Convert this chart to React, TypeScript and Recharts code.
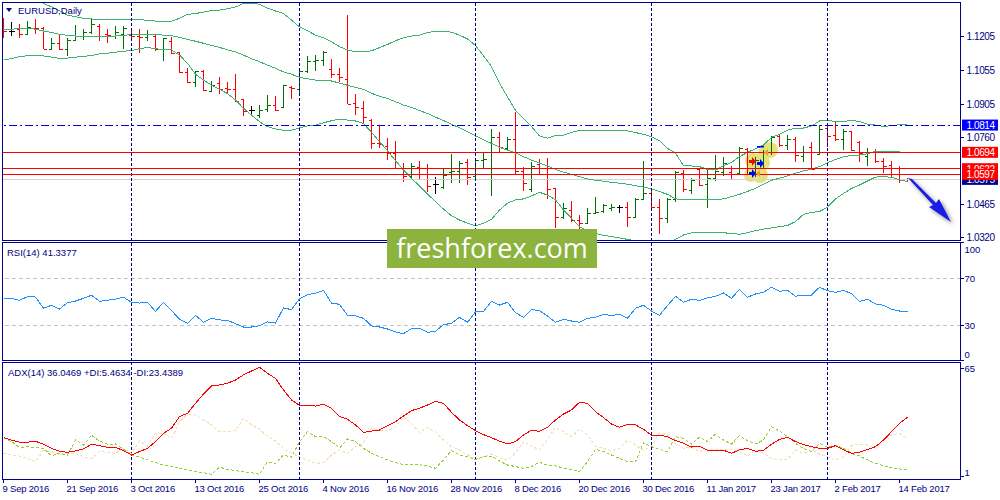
import React from 'react';
import { ComposedChart, Bar, Line, XAxis, YAxis, ReferenceLine } from 'recharts';

const opens = [
  1.1235, 1.1230, 1.1235, 1.1213, 1.1243, 1.1243, 1.1150, 1.1174, 1.1148, 1.1188,
  1.1206, 1.1222, 1.1249, 1.1214, 1.1206, 1.1217, 1.1210, 1.1208, 1.1203, 1.1206,
  1.1148, 1.1183, 1.1136, 1.1048, 1.1003, 1.1054, 1.0965, 1.0997, 1.0976, 1.0973,
  1.0927, 1.0879, 1.0859, 1.0883, 1.0902, 1.0895, 1.0983, 1.0971, 1.1053, 1.1097,
  1.1100, 1.1061, 1.1038, 1.1015, 1.0909, 1.0888, 1.0836, 1.0733, 1.0722, 1.0693,
  1.0623, 1.0591, 1.0631, 1.0623, 1.0554, 1.0543, 1.0609, 1.0612, 1.0652, 1.0590,
  1.0661, 1.0623, 1.0760, 1.0714, 1.0752, 1.0610, 1.0531, 1.0641, 1.0623, 1.0535,
  1.0411, 1.0440, 1.0396, 1.0385, 1.0425, 1.0435, 1.0449, 1.0455, 1.0455, 1.0411,
  1.0487, 1.0516, 1.0452, 1.0404, 1.0487, 1.0602, 1.0528, 1.0620, 1.0554, 1.0580,
  1.0609, 1.0606, 1.0602, 1.0709, 1.0623, 1.0645, 1.0694, 1.0768, 1.0726, 1.0752,
  1.0678, 1.0719, 1.0685, 1.0800, 1.0770, 1.0752, 1.0788, 1.0741, 1.0678, 1.0701,
  1.0657, 1.0638, 1.0623, 1.0578,
];
const highs = [
  1.1284, 1.1269, 1.1259, 1.1274, 1.1281, 1.1246, 1.1198, 1.1210, 1.1198, 1.1254,
  1.1239, 1.1279, 1.1259, 1.1236, 1.1249, 1.1249, 1.1243, 1.1236, 1.1232, 1.1210,
  1.1198, 1.1200, 1.1136, 1.1064, 1.1053, 1.1056, 1.1008, 1.1024, 1.1002, 1.1038,
  1.0928, 1.0898, 1.0901, 1.0946, 1.0941, 1.0990, 1.0987, 1.1059, 1.1119, 1.1122,
  1.1139, 1.1106, 1.1064, 1.1298, 1.0949, 1.0920, 1.0839, 1.0814, 1.0759, 1.0743,
  1.0645, 1.0645, 1.0656, 1.0642, 1.0584, 1.0623, 1.0687, 1.0656, 1.0663, 1.0667,
  1.0693, 1.0795, 1.0782, 1.0760, 1.0872, 1.0628, 1.0652, 1.0664, 1.0669, 1.0535,
  1.0473, 1.0480, 1.0418, 1.0447, 1.0496, 1.0467, 1.0467, 1.0463, 1.0477, 1.0492,
  1.0656, 1.0528, 1.0489, 1.0492, 1.0612, 1.0616, 1.0580, 1.0623, 1.0620, 1.0682,
  1.0672, 1.0634, 1.0716, 1.0712, 1.0675, 1.0704, 1.0766, 1.0775, 1.0771, 1.0763,
  1.0722, 1.0738, 1.0814, 1.0810, 1.0828, 1.0795, 1.0788, 1.0745, 1.0712, 1.0707,
  1.0667, 1.0655, 1.0634, 1.0583,
];
const lows = [
  1.1196, 1.1206, 1.1198, 1.1210, 1.1217, 1.1148, 1.1148, 1.1145, 1.1119, 1.1183,
  1.1188, 1.1217, 1.1185, 1.1177, 1.1193, 1.1149, 1.1196, 1.1133, 1.1185, 1.1139,
  1.1097, 1.1129, 1.1045, 1.1000, 1.0983, 1.0966, 1.0960, 1.0950, 1.0950, 1.0917,
  1.0856, 1.0853, 1.0845, 1.0870, 1.0877, 1.0891, 1.0928, 1.0953, 1.1045, 1.1053,
  1.1076, 1.1022, 1.1005, 1.0905, 1.0859, 1.0824, 1.0707, 1.0711, 1.0660, 1.0619,
  1.0565, 1.0573, 1.0578, 1.0521, 1.0511, 1.0534, 1.0561, 1.0561, 1.0548, 1.0580,
  1.0620, 1.0503, 1.0697, 1.0704, 1.0599, 1.0525, 1.0521, 1.0599, 1.0489, 1.0363,
  1.0399, 1.0389, 1.0338, 1.0382, 1.0422, 1.0425, 1.0437, 1.0428, 1.0367, 1.0408,
  1.0484, 1.0447, 1.0334, 1.0385, 1.0477, 1.0521, 1.0509, 1.0545, 1.0451, 1.0570,
  1.0591, 1.0573, 1.0599, 1.0594, 1.0584, 1.0620, 1.0682, 1.0719, 1.0704, 1.0652,
  1.0652, 1.0616, 1.0682, 1.0719, 1.0745, 1.0704, 1.0701, 1.0652, 1.0635, 1.0649,
  1.0604, 1.0584, 1.0558, 1.0568,
];
const closes = [
  1.1229, 1.1230, 1.1216, 1.1246, 1.1241, 1.1150, 1.1174, 1.1148, 1.1188, 1.1206,
  1.1222, 1.1259, 1.1206, 1.1212, 1.1222, 1.1243, 1.1206, 1.1200, 1.1213, 1.1148,
  1.1198, 1.1132, 1.1048, 1.1003, 1.1051, 1.0969, 1.0992, 1.0973, 1.0973, 1.0920,
  1.0877, 1.0879, 1.0882, 1.0902, 1.0882, 1.0989, 1.0976, 1.1053, 1.1096, 1.1100,
  1.1136, 1.1037, 1.1024, 1.0905, 1.0892, 1.0850, 1.0733, 1.0730, 1.0693, 1.0623,
  1.0591, 1.0635, 1.0623, 1.0547, 1.0554, 1.0594, 1.0611, 1.0648, 1.0584, 1.0661,
  1.0664, 1.0760, 1.0716, 1.0753, 1.0610, 1.0558, 1.0635, 1.0623, 1.0531, 1.0411,
  1.0447, 1.0396, 1.0385, 1.0425, 1.0430, 1.0460, 1.0452, 1.0455, 1.0411, 1.0487,
  1.0513, 1.0452, 1.0404, 1.0489, 1.0606, 1.0532, 1.0573, 1.0550, 1.0580, 1.0613,
  1.0645, 1.0599, 1.0712, 1.0623, 1.0660, 1.0697, 1.0763, 1.0726, 1.0751, 1.0682,
  1.0697, 1.0620, 1.0795, 1.0767, 1.0752, 1.0789, 1.0704, 1.0690, 1.0697, 1.0657,
  1.0635, 1.0626, 1.0575, 1.0575,
];
const bbUpper = [
  1.1423, 1.1415, 1.1405, 1.1391, 1.1372, 1.1350, 1.1334, 1.1317, 1.1298, 1.1291,
  1.1284, 1.1281, 1.1279, 1.1279, 1.1279, 1.1279, 1.1281, 1.1278, 1.1275, 1.1272,
  1.1271, 1.1271, 1.1284, 1.1301, 1.1305, 1.1311, 1.1318, 1.1320, 1.1326, 1.1334,
  1.1349, 1.1351, 1.1346, 1.1329, 1.1316, 1.1305, 1.1276, 1.1246, 1.1229, 1.1210,
  1.1198, 1.1181, 1.1159, 1.1145, 1.1136, 1.1136, 1.1141, 1.1155, 1.1169, 1.1185,
  1.1198, 1.1206, 1.1210, 1.1222, 1.1226, 1.1226, 1.1223, 1.1210, 1.1193, 1.1164,
  1.1119, 1.1071, 1.0998, 1.0938, 1.0879, 1.0843, 1.0807, 1.0766, 1.0756, 1.0768,
  1.0769, 1.0782, 1.0791, 1.0791, 1.0791, 1.0791, 1.0791, 1.0791, 1.0788, 1.0781,
  1.0773, 1.0763, 1.0745, 1.0711, 1.0690, 1.0635, 1.0634, 1.0631, 1.0619, 1.0616,
  1.0635, 1.0649, 1.0675, 1.0694, 1.0709, 1.0726, 1.0760, 1.0773, 1.0792, 1.0800,
  1.0801, 1.0810, 1.0832, 1.0836, 1.0829, 1.0829, 1.0836, 1.0829, 1.0818, 1.0814,
  1.0808, 1.0811, 1.0816, 1.0817,
];
const bbMiddle = [
  1.1235, 1.1236, 1.1239, 1.1241, 1.1236, 1.1228, 1.1222, 1.1213, 1.1209, 1.1206,
  1.1204, 1.1203, 1.1203, 1.1204, 1.1206, 1.1209, 1.1212, 1.1212, 1.1212, 1.1212,
  1.1210, 1.1207, 1.1200, 1.1191, 1.1183, 1.1174, 1.1165, 1.1156, 1.1145, 1.1136,
  1.1122, 1.1106, 1.1093, 1.1078, 1.1064, 1.1048, 1.1038, 1.1024, 1.1018, 1.1012,
  1.1011, 1.1008, 1.0999, 1.0989, 1.0980, 1.0971, 1.0954, 1.0941, 1.0931, 1.0917,
  1.0902, 1.0892, 1.0878, 1.0865, 1.0849, 1.0834, 1.0818, 1.0802, 1.0785, 1.0766,
  1.0749, 1.0733, 1.0716, 1.0704, 1.0691, 1.0675, 1.0660, 1.0647, 1.0634, 1.0619,
  1.0607, 1.0597, 1.0587, 1.0577, 1.0571, 1.0567, 1.0562, 1.0558, 1.0554, 1.0547,
  1.0541, 1.0534, 1.0521, 1.0509, 1.0489, 1.0486, 1.0485, 1.0485, 1.0485, 1.0486,
  1.0489, 1.0499, 1.0509, 1.0522, 1.0535, 1.0554, 1.0571, 1.0580, 1.0590, 1.0602,
  1.0612, 1.0620, 1.0631, 1.0648, 1.0663, 1.0674, 1.0681, 1.0682, 1.0688, 1.0698,
  1.0698, 1.0697, 1.0697, null,
];
const bbLower = [
  1.1100, 1.1107, 1.1115, 1.1119, 1.1120, 1.1118, 1.1113, 1.1107, 1.1109, 1.1113,
  1.1116, 1.1120, 1.1127, 1.1130, 1.1135, 1.1139, 1.1142, 1.1150, 1.1156, 1.1150,
  1.1146, 1.1145, 1.1122, 1.1086, 1.1038, 1.1012, 1.0990, 1.0971, 1.0953, 1.0924,
  1.0888, 1.0858, 1.0829, 1.0807, 1.0797, 1.0791, 1.0791, 1.0802, 1.0810, 1.0814,
  1.0824, 1.0833, 1.0840, 1.0836, 1.0832, 1.0821, 1.0782, 1.0741, 1.0701, 1.0657,
  1.0616, 1.0580, 1.0545, 1.0511, 1.0477, 1.0444, 1.0415, 1.0396, 1.0382, 1.0370,
  1.0382, 1.0399, 1.0440, 1.0470, 1.0485, 1.0489, 1.0502, 1.0518, 1.0506, 1.0485,
  1.0440, 1.0404, 1.0367, 1.0349, 1.0337, 1.0329, 1.0323, 1.0317, 1.0311, 1.0305,
  1.0297, 1.0289, 1.0289, 1.0294, 1.0311, 1.0330, 1.0340, 1.0342, 1.0343, 1.0343,
  1.0340, 1.0337, 1.0333, 1.0340, 1.0349, 1.0356, 1.0361, 1.0367, 1.0372, 1.0389,
  1.0421, 1.0430, 1.0433, 1.0452, 1.0489, 1.0513, 1.0535, 1.0550, 1.0568, 1.0585,
  1.0587, 1.0584, 1.0573, 1.0565,
];
const rsiValues = [
  52.9, 52.9, 51.2, 54.3, 54.0, 44.4, 47.0, 43.8, 49.2, 50.6,
  52.9, 55.5, 50.3, 51.2, 52.3, 53.8, 49.5, 48.9, 49.5, 41.8,
  49.5, 42.4, 35.3, 31.6, 38.4, 32.5, 35.9, 34.5, 34.2, 31.3,
  28.5, 28.5, 29.6, 32.8, 31.9, 44.7, 43.3, 52.6, 56.0, 57.2,
  59.7, 48.9, 47.8, 38.4, 37.9, 35.9, 29.4, 28.5, 26.8, 24.3,
  22.8, 27.1, 27.4, 24.0, 24.8, 30.5, 31.6, 36.7, 32.5, 41.3,
  41.8, 50.3, 47.2, 49.5, 40.7, 36.7, 43.5, 42.4, 37.9, 32.5,
  35.0, 33.6, 32.5, 35.9, 36.7, 39.3, 38.2, 39.3, 35.9, 44.4,
  47.0, 42.1, 38.4, 46.7, 54.6, 49.5, 52.1, 51.2, 53.2, 54.6,
  57.4, 52.9, 60.6, 53.8, 56.6, 58.0, 62.3, 58.9, 59.7, 54.6,
  55.7, 55.7, 62.3, 59.4, 58.0, 59.7, 56.9, 50.3, 52.1, 48.1,
  47.0, 43.5, 42.1, 41.3,
];
const adxValues = [
  24.1, 22.7, 21.4, 21.4, 22.0, 20.2, 17.8, 16.1, 15.5, 16.3,
  17.5, 20.2, 19.4, 18.4, 18.4, 16.5, 13.9, 15.9, 17.8, 21.8,
  26.7, 29.6, 36.5, 38.4, 44.3, 49.8, 54.5, 55.1, 56.1, 58.0,
  61.0, 63.3, 65.5, 61.9, 59.0, 52.1, 46.3, 43.1, 42.9, 42.7,
  43.7, 41.4, 36.5, 34.9, 31.6, 27.2, 28.0, 28.6, 31.2, 33.5,
  36.9, 40.0, 41.4, 43.3, 45.5, 44.3, 39.0, 34.5, 31.2, 28.2,
  25.9, 24.1, 22.0, 20.4, 21.8, 25.7, 28.4, 27.8, 30.2, 34.5,
  38.0, 40.4, 44.9, 44.3, 39.4, 35.9, 32.1, 30.2, 31.9, 31.6,
  29.0, 25.5, 25.5, 24.7, 22.4, 20.8, 18.6, 19.0, 16.7, 16.7,
  16.7, 14.9, 16.9, 17.8, 16.1, 16.7, 20.2, 23.1, 24.3, 21.8,
  20.0, 18.8, 17.8, 17.8, 19.4, 16.9, 14.9, 15.5, 17.2, 18.8,
  22.7, 27.6, 32.5, 36.05,
];
const plusDi = [
  24.1, 21.8, 18.4, 18.8, 18.4, 17.8, 13.5, 14.9, 13.9, 22.7,
  19.8, 25.5, 22.1, 20.2, 20.4, 17.2, 13.9, 12.6, 11.0, 9.4,
  8.0, 7.1, 6.1, 5.1, 4.1, 3.5, 2.6, 6.7, 5.5, 4.7,
  4.1, 3.5, 2.6, 10.0, 9.0, 13.9, 12.6, 21.8, 27.6, 24.7,
  24.7, 21.8, 17.8, 23.3, 21.8, 17.8, 14.9, 12.9, 11.0, 9.4,
  8.2, 8.2, 8.2, 7.4, 6.1, 11.0, 16.5, 13.9, 12.9, 11.0,
  12.9, 13.3, 10.4, 8.0, 7.1, 6.1, 7.1, 9.6, 8.0, 7.6,
  6.1, 5.5, 4.1, 10.0, 17.2, 15.9, 13.9, 11.9, 10.0, 10.0,
  21.2, 18.8, 17.2, 15.9, 24.7, 23.7, 20.4, 24.3, 21.8, 26.1,
  22.7, 20.4, 25.3, 22.3, 20.4, 22.7, 30.6, 28.0, 24.7, 20.8,
  17.8, 15.9, 20.8, 18.4, 19.4, 17.8, 14.9, 13.3, 11.0, 9.0,
  7.6, 6.5, 5.7, 5.46,
];
const minusDi = [
  14.9, 13.9, 13.3, 11.9, 10.0, 16.5, 15.9, 13.9, 14.9, 14.9,
  12.9, 11.6, 15.9, 15.5, 14.9, 17.8, 14.9, 22.1, 19.2, 26.7,
  26.7, 23.3, 33.5, 37.8, 37.4, 34.5, 31.6, 27.6, 27.6, 28.2,
  35.5, 31.6, 29.2, 24.7, 22.1, 17.8, 14.9, 12.9, 11.0, 9.0,
  9.4, 13.9, 16.9, 14.9, 18.8, 20.8, 29.6, 28.6, 28.2, 30.6,
  36.5, 32.5, 27.2, 30.0, 27.6, 22.7, 18.8, 16.9, 13.9, 11.6,
  12.9, 14.3, 12.5, 11.0, 14.9, 21.8, 19.2, 16.9, 23.3, 30.2,
  27.6, 24.7, 29.0, 25.7, 18.8, 17.8, 16.3, 17.8, 22.7, 19.8,
  16.5, 19.2, 27.2, 25.7, 20.8, 17.8, 18.4, 15.9, 17.2, 16.9,
  16.9, 17.2, 15.9, 13.3, 16.9, 14.9, 11.9, 11.0, 11.4, 16.9,
  14.9, 16.9, 14.5, 12.9, 11.0, 12.9, 19.2, 20.4, 19.8, 17.8,
  22.7, 25.7, 26.7, 23.44,
];

const dateLabels = [
  '9 Sep 2016', '21 Sep 2016', '3 Oct 2016', '13 Oct 2016', '25 Oct 2016', '4 Nov 2016', '16 Nov 2016',
  '28 Nov 2016', '8 Dec 2016', '20 Dec 2016', '30 Dec 2016', '11 Jan 2017', '23 Jan 2017', '2 Feb 2017', '14 Feb 2017',
];
const dateTicks = [0, 8, 16, 24, 32, 40, 48, 56, 64, 72, 80, 88, 96, 104, 112];
const monthStarts = [16, 37, 59, 81, 103];

const priceTicks = [1.032, 1.0465, 1.076, 1.0905, 1.1055, 1.1205];
const markedPrices = [
  { value: 1.0814, fill: '#0000ff' },
  { value: 1.0694, fill: '#ff0000' },
  { value: 1.0575, fill: '#00008b' },
  { value: 1.0622, fill: '#ff0000' },
  { value: 1.0597, fill: '#ff0000' },
];
const redLevels = [1.0694, 1.0622, 1.0597];
const rsiTicks = [0, 30, 70, 100];
const adxTicks = [1, 65];

const rows = opens.map((open, i) => ({
  i,
  open,
  high: highs[i],
  low: lows[i],
  close: closes[i],
  range: [lows[i], highs[i]],
  bbUpper: bbUpper[i],
  bbMiddle: bbMiddle[i],
  bbLower: bbLower[i],
  rsi: rsiValues[i],
  adx: adxValues[i],
  plusDi: plusDi[i],
  minusDi: minusDi[i],
}));

const NAVY = '#00008b';
const FONT = '"Liberation Sans", sans-serif';
const X_DOMAIN: [number, number] = [-0.125, 119.625];

const OhlcBar = (props: any) => {
  const { x, y, width, height, payload } = props;
  const { open, high, low, close } = payload;
  const cx = Math.floor(x + width / 2) + 0.5;
  const h = Math.abs(height);
  const py = (v: number) => Math.round(y + ((high - v) / (high - low)) * h) + 0.5;
  const color = close > open ? '#006f00' : close < open ? '#ff0000' : '#000000';
  return (
    <path
      d={`M${cx} ${y}V${y + h}M${cx - 3} ${py(open)}H${cx}M${cx} ${py(close)}H${cx + 3}`}
      stroke={color}
      strokeWidth={1}
      fill="none"
      shapeRendering="crispEdges"
    />
  );
};

const PriceTick = (props: any) => {
  const { x, y, payload } = props;
  const mark = markedPrices.find(m => m.value === payload.value);
  if (mark) {
    return (
      <g>
        <rect x={x + 1.5} y={y - 5.5} width={36} height={11} fill={mark.fill} />
        <text x={x + 6} y={y + 4} fontSize={10} letterSpacing={-0.4} fontFamily={FONT} fill="#ffffff">
          {payload.value.toFixed(4)}
        </text>
      </g>
    );
  }
  return (
    <g>
      <line x1={x} x2={x + 3} y1={y} y2={y} stroke={NAVY} shapeRendering="crispEdges" />
      <text x={x + 6} y={y + 4} fontSize={10} letterSpacing={-0.4} fontFamily={FONT} fill="#000080">
        {payload.value.toFixed(4)}
      </text>
    </g>
  );
};

// the terminal pushes the outermost labels back inside the pane
const labelShift: Record<number, number> = { 100: 6, 0: -7, 1: -5 };

const IndicatorTick = (props: any) => {
  const { x, y, payload } = props;
  return (
    <g>
      <line x1={x} x2={x + 3} y1={y} y2={y} stroke={NAVY} shapeRendering="crispEdges" />
      <text x={x + 4} y={y + 4 + (labelShift[payload.value] ?? 0)} fontSize={9.5} fontFamily={FONT} fill="#000080">
        {payload.value}
      </text>
    </g>
  );
};

const DateTick = (props: any) => {
  const { x, y, payload } = props;
  const label = dateLabels[dateTicks.indexOf(payload.value)];
  return (
    <g>
      <line x1={x} x2={x} y1={y} y2={y + 3} stroke={NAVY} shapeRendering="crispEdges" />
      <text x={x - 1} y={y + 12} fontSize={9.5} letterSpacing={-0.2} fontFamily={FONT} fill="#000080">
        {label}
      </text>
    </g>
  );
};

const monthLines = monthStarts.map(m => (
  <ReferenceLine key={m} x={m} stroke="#000080" strokeDasharray="3 2" shapeRendering="crispEdges" />
));

const pane = (top: number, height: number): React.CSSProperties => ({
  position: 'absolute',
  left: 2,
  top,
  width: 959,
  height,
  boxSizing: 'border-box',
  border: `1px solid ${NAVY}`,
});

const legend = (left: number, top: number): React.CSSProperties => ({
  position: 'absolute',
  left,
  top,
  font: `9.5px ${FONT}`,
  color: '#000080',
  whiteSpace: 'nowrap',
});

const layer: React.CSSProperties = { position: 'absolute', left: 0, top: 0 };

export default function App() {
  return (
    <div style={{ position: 'absolute', left: 0, top: 0, width: 1000, height: 500, background: '#fff', overflow: 'hidden' }}>
      {/* highlight blobs behind the bars */}
      <svg width={1000} height={500} style={layer}>
        <g fill="#e6e27a">
          <circle cx={753} cy={161} r={8} />
          <circle cx={762} cy={163} r={8} />
          <circle cx={765} cy={153} r={7} />
          <circle cx={770} cy={150} r={8} />
          <circle cx={751} cy={175} r={7} />
          <circle cx={760} cy={175} r={8} />
        </g>
      </svg>

      <div style={layer}>
        <ComposedChart width={1000} height={245} data={rows} margin={{ top: 2.5, right: 0, bottom: 4.5, left: 2.5 }}>
          <XAxis dataKey="i" type="number" domain={X_DOMAIN} allowDataOverflow hide />
          <YAxis
            orientation="right"
            width={39.5}
            domain={[1.03059, 1.13535]}
            allowDataOverflow
            ticks={[...priceTicks, ...markedPrices.map(m => m.value)]}
            interval={0}
            axisLine={false}
            tickLine={false}
            tickSize={0}
            tickMargin={0}
            tick={<PriceTick />}
          />
          <ReferenceLine y={1.0575} stroke="#d3d3d3" shapeRendering="crispEdges" />
          <Line dataKey="bbUpper" stroke="#3cb371" shapeRendering="crispEdges" dot={false} isAnimationActive={false} legendType="none" />
          <Line dataKey="bbMiddle" stroke="#3cb371" shapeRendering="crispEdges" dot={false} isAnimationActive={false} legendType="none" />
          <Line dataKey="bbLower" stroke="#3cb371" shapeRendering="crispEdges" dot={false} isAnimationActive={false} legendType="none" />
          <Bar dataKey="range" barSize={7} shape={<OhlcBar />} isAnimationActive={false} />
          {monthLines}
          <ReferenceLine y={1.0814} stroke="#0000cd" strokeDasharray="8 3 2 3" shapeRendering="crispEdges" />
          {redLevels.map(v => (
            <ReferenceLine key={v} y={v} stroke="#ff0000" shapeRendering="crispEdges" />
          ))}
        </ComposedChart>
      </div>

      <div style={{ ...layer, top: 240 }}>
        <ComposedChart width={1000} height={125} data={rows} margin={{ top: 2.5, right: 0, bottom: 4.5, left: 2.5 }}>
          <XAxis dataKey="i" type="number" domain={X_DOMAIN} allowDataOverflow hide />
          <YAxis
            orientation="right"
            width={39.5}
            domain={[0, 100.4]}
            ticks={rsiTicks}
            interval={0}
            axisLine={false}
            tickLine={false}
            tickSize={0}
            tickMargin={0}
            tick={<IndicatorTick />}
          />
          <ReferenceLine y={70} stroke="#c0c0c0" strokeDasharray="4 3" shapeRendering="crispEdges" />
          <ReferenceLine y={30} stroke="#c0c0c0" strokeDasharray="4 3" shapeRendering="crispEdges" />
          {monthLines}
          <Line dataKey="rsi" stroke="#1e90ff" shapeRendering="crispEdges" dot={false} isAnimationActive={false} legendType="none" />
        </ComposedChart>
      </div>

      <div style={{ ...layer, top: 360 }}>
        <ComposedChart width={1000} height={140} data={rows} margin={{ top: 2.5, right: 0, bottom: 0.5, left: 2.5 }}>
          <XAxis
            dataKey="i"
            type="number"
            domain={X_DOMAIN}
            allowDataOverflow
            height={20}
            ticks={dateTicks}
            interval={0}
            axisLine={false}
            tickLine={false}
            tickSize={0}
            tickMargin={0}
            tick={<DateTick />}
          />
          <YAxis
            orientation="right"
            width={39.5}
            domain={[-0.5, 68.3]}
            ticks={adxTicks}
            interval={0}
            axisLine={false}
            tickLine={false}
            tickSize={0}
            tickMargin={0}
            tick={<IndicatorTick />}
          />
          {monthLines}
          <Line dataKey="minusDi" stroke="#f5deb3" strokeDasharray="3 2" shapeRendering="crispEdges" dot={false} isAnimationActive={false} legendType="none" />
          <Line dataKey="plusDi" stroke="#9acd32" strokeDasharray="3 2" shapeRendering="crispEdges" dot={false} isAnimationActive={false} legendType="none" />
          <Line dataKey="adx" stroke="#ff0000" shapeRendering="crispEdges" dot={false} isAnimationActive={false} legendType="none" />
        </ComposedChart>
      </div>

      <div style={pane(2, 239)} />
      <div style={pane(242, 119)} />
      <div style={pane(362, 118)} />

      <div style={legend(18, 5)}>EURUSD,Daily</div>
      <div style={legend(7, 247)}>RSI(14) 41.3377</div>
      <div style={legend(8, 367)}>ADX(14) 36.0469 +DI:5.4634 -DI:23.4389</div>

      {/* annotations drawn on top of the terminal screenshot */}
      <svg width={1000} height={500} style={layer}>
        <defs>
          <filter id="arrowShadow" x="-30%" y="-30%" width="170%" height="170%">
            <feDropShadow dx="2" dy="2" stdDeviation="2" floodColor="#555" floodOpacity="0.7" />
          </filter>
        </defs>
        <polygon points="6,8 12,8 9,12" fill={NAVY} />
        <polygon
          points="908,178 912,179 936,203 939,199 951,222 929,207 933,205"
          fill="#1a1ae8"
          filter="url(#arrowShadow)"
        />
        <g fill="#ff0000">
          <path d="M749 160h3v-3l4 4.5-4 4.5v-3h-3z" />
        </g>
        <g fill="#0000ff">
          <path d="M757 162h3v-3l4 4.5-4 4.5v-3h-3z" />
          <path d="M749 172h3v-3l4 4.5-4 4.5v-3h-3z" />
          <rect x={757} y={146} width={7} height={1.5} />
        </g>
        <g fill="#e0a030">
          <path d="M768 149v7l-4-3.5z" />
          <path d="M760 170v7l-4-3.5z" />
        </g>
      </svg>

      <div
        style={{
          position: 'absolute',
          left: 387,
          top: 229,
          width: 210,
          height: 39,
          background: '#8db33f',
          color: '#fff',
          font: '27px "Open Sans", sans-serif',
          lineHeight: '38px',
          textAlign: 'center',
        }}
      >
        freshforex.com
      </div>
    </div>
  );
}
